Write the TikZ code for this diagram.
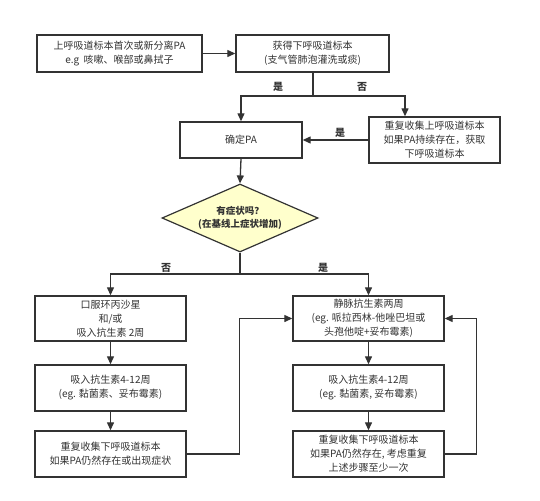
\documentclass[tikz,border=0pt]{standalone}
\usepackage{fontspec}
\setmainfont{Noto Sans CJK SC}
\usetikzlibrary{arrows.meta,shapes.geometric,calc}
\definecolor{ln}{HTML}{333333}
\definecolor{tx}{HTML}{333333}
\definecolor{dfill}{HTML}{FFFFCC}
\begin{document}
\begin{tikzpicture}[x=1pt,y=-1pt,
  every node/.style={font=\fontsize{10}{14}\selectfont, text=tx},
  boxnode/.style={draw=ln, line width=1.4pt, rectangle, align=center, inner sep=0pt},
  decnode/.style={draw=ln, line width=1.2pt, diamond, fill=dfill, aspect=2.3, inner sep=0pt, minimum width=156pt, minimum height=68pt, align=center, font=\fontsize{9.5}{13}\selectfont\bfseries},
  lbl/.style={font=\fontsize{10}{12}\selectfont\bfseries},
  conn/.style={draw=ln, line width=1.3pt},
  arr/.style={conn, -{Triangle[length=8pt,width=7pt]}}]
\useasboundingbox (0,0) rectangle (540,500);
\fill[white] (0,0) rectangle (540,500);

\node[boxnode, minimum width=165pt, minimum height=37pt] (b1) at (119.5,53.5) {上呼吸道标本首次或新分离PA\\e.g\ \ 咳嗽、喉部或鼻拭子};
\node[boxnode, minimum width=153pt, minimum height=37pt] (b2) at (312.5,53.5) {获得下呼吸道标本\\(支气管肺泡灌洗或痰)};
\node[boxnode, minimum width=122pt, minimum height=36pt] (b3) at (241,140) {确定PA};
\node[boxnode, minimum width=131pt, minimum height=46pt] (b4) at (434.5,140) {重复收集上呼吸道标本\\如果PA持续存在，获取\\下呼吸道标本};
\node[decnode] (d) at (240,218) {有症状吗？\\(在基线上症状增加)};

\node[boxnode, minimum width=151pt, minimum height=45pt] (L1) at (110.5,318.5) {口服环丙沙星\\和/或\\吸入抗生素 2周};
\node[boxnode, minimum width=151pt, minimum height=46pt] (L2) at (110.5,388) {吸入抗生素4-12周\\(eg. 黏菌素、妥布霉素)};
\node[boxnode, minimum width=151pt, minimum height=46pt] (L3) at (110.5,454) {重复收集下呼吸道标本\\如果PA仍然存在或出现症状};

\node[boxnode, minimum width=151pt, minimum height=45pt] (R1) at (368.5,318.5) {静脉抗生素两周\\(eg. 哌拉西林-他唑巴坦或\\头孢他啶+妥布霉素)};
\node[boxnode, minimum width=151pt, minimum height=46pt] (R2) at (368.5,388) {吸入抗生素4-12周\\(eg. 黏菌素, 妥布霉素)};
\node[boxnode, minimum width=151pt, minimum height=46pt] (R3) at (368.5,454) {重复收集下呼吸道标本\\如果PA仍然存在, 考虑重复\\上述步骤至少一次};

\coordinate (s1) at (313,96);
\coordinate (s1r) at (405,96);
\coordinate (s2) at (240,274);

\draw[arr] (b1) -- (b2);
\draw[conn] (b2.south -| s1) -- (s1);
\draw[arr] (s1) -| (b3.north);
\draw[arr] (s1) -- (s1r) -- (s1r |- b4.north);
\draw[arr] (b4.west) -- (b3.east);
\draw[arr] (b3.south) -- (d.north);
\draw[conn] (d.south) -- (s2);
\draw[arr] (s2) -| (L1.north);
\draw[arr] (s2) -| (R1.north);
\draw[arr] (L1) -- (L2);
\draw[arr] (L2) -- (L3);
\draw[arr] (R1) -- (R2);
\draw[arr] (R2) -- (R3);
\draw[arr] (L3.east) -- ++(53,0) |- (R1.west);
\draw[arr] (R3.east) -- ++(32,0) |- (R1.east);

\node[lbl] (y1) at (278,87) {是};
\node[lbl] (n1) at (362,87) {否};
\node[lbl] (y2) at (340,133) {是};
\node[lbl] (n2) at (166,268) {否};
\node[lbl] (y3) at (323,268) {是};
\end{tikzpicture}
\end{document}
